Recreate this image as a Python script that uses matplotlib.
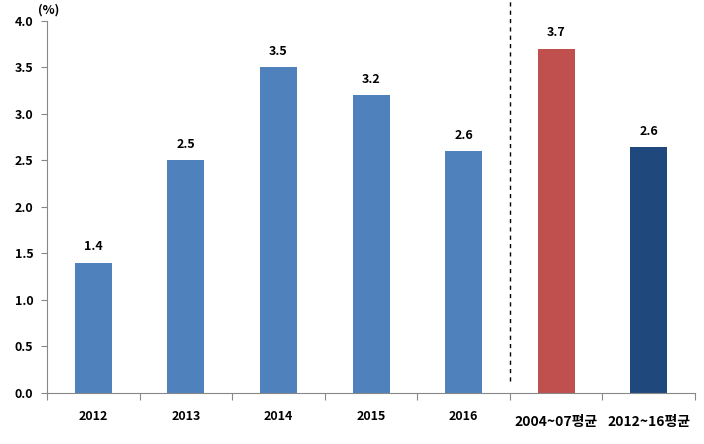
import matplotlib.pyplot as plt
from matplotlib.transforms import ScaledTranslation

plt.rcParams['font.family'] = ['Noto Sans CJK KR', 'DejaVu Sans']

categories = ['2012', '2013', '2014', '2015', '2016', '2004~07평균', '2012~16평균']
values = [1.4, 2.5, 3.5, 3.2, 2.6, 3.7, 2.64]
labels = ['1.4', '2.5', '3.5', '3.2', '2.6', '3.7', '2.6']
colors = ['#4F81BD'] * 5 + ['#C0504D', '#1F497D']

fig = plt.figure(figsize=(7.04, 4.44), dpi=100)
ax = fig.add_axes([0.067, 0.115, 0.92, 0.838])

x = range(len(categories))
ax.bar(x, values, width=0.4, color=colors)

for xi, v, lab in zip(x, values, labels):
    ax.text(xi, v + 0.1, lab, ha='center', va='bottom', fontsize=9, fontweight='bold')

# Axis ranges and ticks
ax.set_xlim(-0.5, len(categories) - 0.5)
ax.set_ylim(0, 4.0)
ax.set_yticks([0, 0.5, 1.0, 1.5, 2.0, 2.5, 3.0, 3.5, 4.0])
ax.set_yticklabels(['%.1f' % t for t in ax.get_yticks()], fontsize=9, fontweight='bold')
ax.set_xticks([i + 0.5 for i in range(-1, len(categories))], minor=False)
ax.set_xticklabels([])
ax.set_xticks(list(x), minor=True)
ax.set_xticklabels(categories, minor=True, fontsize=9, fontweight='bold')
ax.tick_params(axis='x', which='major', length=5, color='#888888', direction='out')
ax.tick_params(axis='x', which='minor', length=0, pad=12)
ax.tick_params(axis='y', length=4, color='#888888', direction='out', pad=6)

# Korean labels sit a little lower and larger
for t in ax.get_xticklabels(minor=True)[5:]:
    t.set_fontsize(10)
    t.set_transform(t.get_transform() + ScaledTranslation(0, -4 / 72, fig.dpi_scale_trans))

# Spines
ax.spines['top'].set_visible(False)
ax.spines['right'].set_visible(False)
ax.spines['left'].set_color('#888888')
ax.spines['bottom'].set_color('#888888')

# Unit label
ax.text(-0.6, 4.05, '(%)', ha='left', va='bottom', fontsize=9, fontweight='bold')

# Separator line
ax.plot([4.5, 4.5], [0.13, 4.23], 'k--', linewidth=1, dashes=(3, 3), clip_on=False)

plt.savefig('out.png', dpi=100)
